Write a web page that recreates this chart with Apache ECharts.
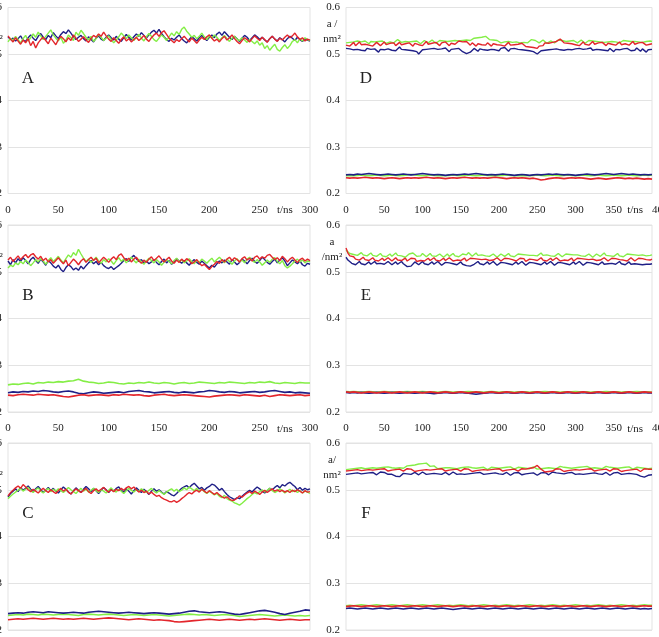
<!DOCTYPE html>
<html><head><meta charset="utf-8">
<script src="https://cdn.jsdelivr.net/npm/echarts@6/dist/echarts.min.js"></script>
<style>html,body{margin:0;padding:0;background:#fff}#c{width:659px;height:637px}</style>
</head><body><div id="c"></div>
<script>
// values in units of 0.001 nm^2
const SCALE = 1000;
const yTickLabels = ['0.2','0.3','0.4','0.5','0.6'];
const xTickLabelsLeft = ['0','50','100','150','200','250','300'];
const xTickLabelsRight = ['0','50','100','150','200','250','300','350','400'];
const panelLetters = ['A','B','C','D','E','F'];
const panelYNames = [['a /','nm²'],['a /','nm²'],['a /','nm²'],['a /','nm²'],['a','/nm²'],['a/','nm²']];

// ---- Panel A (0-300 ns)
const A_blue = [537,531,534,528,533,539,530,527,535,541,534,529,538,544,536,531,540,535,546,539,533,542,548,544,552,545,537,531,536,540,533,528,537,531,526,534,539,532,529,536,541,535,530,538,532,527,535,542,536,530,537,543,538,546,540,534,541,547,551,545,553,544,537,531,527,534,530,536,541,533,528,524,531,537,533,528,535,540,534,529,536,541,535,543,547,540,548,542,536,531,538,533,527,534,540,536,529,535,541,537,531,536,530,526,533,538,532,528,535,531,526,533,538,534,529,536,531,527,533,530,528];
const A_red = [539,532,526,535,528,521,530,524,533,518,527,513,524,531,536,529,522,534,527,520,531,538,533,526,535,529,541,534,527,532,537,530,525,533,540,536,543,538,547,539,532,527,535,529,523,531,537,528,533,526,531,536,529,534,540,532,527,535,541,545,538,546,550,542,534,529,524,531,527,533,538,532,526,534,529,523,530,536,531,537,541,534,528,532,526,533,538,530,535,541,533,527,522,529,535,531,526,533,539,534,529,536,531,525,533,538,532,527,534,530,536,541,535,539,545,537,531,535,528,532,530];
const A_green = [526,534,529,538,531,524,533,540,528,535,543,536,547,539,531,538,545,552,541,534,528,536,523,530,541,535,529,547,540,551,544,536,530,538,527,533,542,536,529,534,539,531,524,530,537,545,539,533,541,535,529,536,542,534,528,537,544,538,531,527,534,541,536,529,537,545,539,548,542,553,558,549,543,536,540,533,538,545,537,531,539,534,541,536,529,535,540,533,527,534,538,532,529,535,530,525,531,527,522,528,519,524,512,518,508,515,521,510,506,514,520,512,518,527,531,524,533,528,535,531,529];

// ---- Panel B (0-300 ns)
const B_blue_hi = [523,515,526,519,528,522,530,524,517,526,531,524,518,527,521,514,524,519,512,508,514,505,500,509,515,511,504,508,503,512,506,513,519,524,517,522,515,520,513,509,507,511,505,509,513,518,524,528,522,530,535,528,522,526,519,523,517,521,526,520,515,522,527,519,524,516,521,528,523,518,524,519,514,521,526,520,516,523,518,513,508,514,510,517,523,519,525,521,516,526,521,515,520,527,523,517,524,529,522,518,524,531,526,520,516,522,527,519,525,530,523,513,519,525,521,517,523,515,512,518,516];
const B_red_hi = [525,531,522,528,534,526,532,537,530,536,539,532,527,533,524,529,521,526,518,524,530,523,517,525,513,520,527,522,515,523,528,520,526,531,524,529,519,525,531,526,520,527,532,526,535,538,530,524,529,521,527,531,523,518,525,520,527,532,524,529,534,527,521,526,531,523,518,525,520,527,522,528,524,517,521,526,519,513,516,510,505,511,516,522,518,526,521,527,531,524,530,526,521,528,532,525,529,523,531,534,527,532,529,535,537,531,526,530,524,533,528,521,527,531,525,520,526,529,523,527,524];
const B_green_hi = [508,514,511,519,515,522,517,525,520,513,519,526,521,528,523,516,524,530,522,527,533,525,519,528,536,531,541,535,548,538,529,522,527,520,525,531,523,518,526,521,528,523,516,524,530,522,527,519,525,531,524,519,527,521,516,523,529,524,519,526,521,514,520,526,522,517,524,529,521,526,519,523,528,522,517,525,520,527,523,518,524,529,521,526,531,525,519,527,522,516,523,528,521,525,519,527,531,524,520,526,521,514,519,525,520,527,530,522,517,524,513,508,512,517,523,527,521,525,519,523,521];
const B_green_lo = [258,260,259,261,262,260,263,262,264,263,265,264,266,267,270,266,264,263,261,262,264,263,261,260,262,261,263,262,264,262,261,263,262,260,262,263,261,262,264,263,262,261,263,262,264,263,262,261,263,262,264,263,265,262,261,263,262,261,263,262,262];
const B_blue_lo = [241,243,242,244,243,245,244,246,245,243,242,244,245,243,240,239,241,243,242,240,241,242,243,241,244,245,246,244,243,241,242,243,244,242,241,243,242,241,243,244,246,245,243,242,244,243,241,242,243,244,242,243,245,246,244,242,243,241,242,241,240];
const B_red_lo = [236,235,237,238,237,236,238,237,236,237,235,233,232,234,236,237,235,236,237,236,235,237,236,238,237,236,237,235,234,236,237,238,236,235,236,237,236,235,234,233,232,234,235,236,237,236,235,237,236,235,234,236,233,235,237,236,235,236,237,235,236];

// ---- Panel C (0-300 ns)
const C_blue_hi = [485,492,497,502,496,505,499,503,508,501,496,502,507,500,494,499,505,498,503,497,493,500,506,501,495,491,498,504,499,494,501,507,502,496,503,498,492,499,505,500,494,501,497,503,506,499,495,502,497,491,498,504,499,494,501,496,490,497,502,497,500,495,491,496,493,489,487,492,498,503,506,509,504,510,514,508,502,505,499,504,507,512,510,505,499,503,496,490,485,482,479,483,481,486,491,495,499,495,501,506,502,497,493,498,503,500,505,509,504,511,508,513,516,511,507,500,505,499,503,500,502];
const C_red_hi = [487,494,499,504,508,503,511,506,500,496,501,497,493,499,503,498,494,500,496,492,498,503,497,501,495,491,497,502,498,494,499,503,496,492,498,502,497,501,505,499,495,500,496,501,498,503,499,504,507,502,506,500,495,499,494,497,491,495,490,486,488,483,480,478,475,474,477,473,476,481,485,490,494,491,496,499,495,501,497,493,498,494,490,494,489,485,482,485,480,477,478,482,487,484,489,493,496,492,497,494,490,495,499,494,498,502,497,500,496,499,495,498,494,499,496,500,497,493,498,495,496];
const C_green_hi = [481,486,491,495,499,503,497,501,505,498,494,500,504,497,493,499,503,496,501,497,502,498,494,499,505,500,496,492,498,503,497,501,495,499,503,498,494,500,497,493,499,504,498,495,501,497,492,498,503,499,495,500,496,502,498,494,499,503,497,493,498,494,490,495,499,502,497,501,496,499,504,500,506,502,498,503,497,501,496,492,497,493,489,492,486,483,488,481,478,476,472,470,467,471,476,481,485,490,494,491,496,500,495,499,503,498,494,497,502,498,493,497,501,496,499,494,498,493,497,495,492];
const C_blue_lo = [235,236,237,236,238,239,238,237,239,238,237,236,237,238,237,236,238,239,240,239,238,237,236,237,238,237,236,235,236,237,236,235,234,235,236,238,240,241,239,238,237,238,239,238,236,234,233,235,237,239,241,242,240,238,235,233,236,238,240,243,242];
const C_green_lo = [231,232,233,232,234,233,232,234,233,232,233,234,233,232,231,233,234,233,232,233,234,233,232,231,232,233,232,231,232,233,232,231,230,231,232,233,234,233,232,233,232,231,232,233,232,231,229,230,231,232,233,232,231,230,231,232,231,230,231,230,231];
const C_red_lo = [222,223,224,223,224,225,224,223,224,225,224,223,224,223,224,225,224,223,224,225,226,225,224,223,222,223,224,223,222,221,222,221,220,218,217,218,219,220,221,222,223,222,221,222,223,222,221,222,223,222,223,224,223,222,221,222,223,222,221,222,222];

// ---- Panel D (0-400 ns)
const D_green_hi = [524,527,525,529,526,523,528,530,526,524,528,525,522,527,529,526,524,527,530,528,525,523,527,526,530,524,527,531,528,525,529,527,523,526,530,527,524,528,525,522,526,529,527,524,527,530,526,523,527,529,525,528,531,527,524,528,526,529,532,528,525,529,527,530,532,529,531,534,532,535,533,536,535,538,534,531,528,530,526,529,527,524,528,526,523,527,529,525,522,526,528,524,521,525,527,524,528,531,527,529,526,524,528,530,526,523,525,528,526,524,527,530,526,529,531,527,524,528,526,529,527,524,528,530,526,523,527,529,525,528,531,527,524,526,529,525,528,526,523,527,530,526,528,524,527,529,525,528,531,527,524,527,530,526,528,525,529,527,524,528,527];
const D_red_hi = [519,523,517,521,525,518,522,526,520,516,521,524,519,523,517,520,525,521,518,522,526,520,517,523,519,524,518,521,525,520,516,522,519,524,521,517,523,526,520,524,518,522,527,521,517,523,519,525,521,518,524,520,526,522,518,523,527,521,525,528,530,526,522,527,523,519,524,520,517,522,526,520,523,519,524,521,517,522,526,520,524,519,522,517,521,525,519,523,520,516,521,518,523,519,516,520,515,518,514,516,512,517,521,518,524,520,523,519,525,521,527,530,532,528,524,520,523,519,522,526,520,524,518,522,526,521,525,519,523,527,521,518,524,520,525,522,518,523,527,521,524,519,523,526,520,517,522,525,519,523,527,521,518,524,520,525,522,519,523,521,522];
const D_blue_hi = [512,508,511,514,509,505,510,513,508,511,507,512,515,510,506,511,508,504,510,513,509,505,511,514,508,512,507,511,515,510,506,509,512,508,504,507,503,505,500,504,509,513,510,507,511,508,512,515,510,506,511,508,513,509,505,510,514,511,507,512,508,505,503,501,500,504,508,512,509,506,511,514,509,512,508,505,510,513,509,511,507,512,509,514,510,506,511,508,512,515,510,506,509,505,508,504,507,503,505,502,500,503,507,511,508,512,509,513,510,507,511,514,509,512,508,505,510,513,509,506,511,508,512,515,510,507,511,509,513,508,505,510,514,509,512,508,511,507,512,509,505,510,513,509,506,511,508,512,510,507,511,508,513,510,506,511,508,504,509,511,510];
const D_blue_lo = [240,241,240,242,241,242,243,242,241,240,241,242,241,240,241,242,241,240,241,242,243,242,241,240,241,240,239,240,241,240,241,242,241,242,243,242,241,240,241,240,241,242,241,240,239,240,241,240,239,240,241,240,241,242,241,242,241,240,241,240,239,240,241,242,241,240,241,242,243,242,241,242,243,242,241,242,241,240,241,240,241];
const D_green_lo = [238,239,238,239,240,239,238,239,240,239,238,239,240,239,238,239,240,241,240,239,238,239,240,239,238,239,238,239,240,239,238,239,240,239,238,239,240,239,238,239,238,239,240,239,238,239,238,239,238,239,240,239,238,239,240,239,238,239,240,239,238,239,240,239,238,239,240,239,238,239,240,239,238,239,240,239,238,239,240,239,240];
const D_red_lo = [234,233,234,233,234,235,234,233,234,233,232,233,234,233,232,233,234,233,234,233,234,235,234,233,234,233,232,233,234,233,234,235,234,233,234,233,234,233,234,235,234,233,232,233,234,233,234,233,232,233,231,229,230,232,233,234,233,232,233,234,233,234,233,232,231,232,233,232,231,232,233,234,233,232,233,232,233,232,231,232,231];

// ---- Panel E (0-400 ns)
const E_green_hi = [546,542,539,543,537,540,535,538,541,536,539,534,537,540,535,538,533,536,539,534,537,532,535,538,533,536,540,535,538,534,537,531,534,538,535,540,536,533,537,534,539,535,532,536,539,534,537,533,536,538,534,531,535,538,533,536,539,534,537,532,535,538,534,536,541,537,533,537,540,535,532,536,539,534,537,533,535,538,534,531,535,538,536,533,537,539,534,536,532,535,538,534,537,533,536,539,535,532,535,538,534,537,540,535,533,536,539,534,537,533,536,539,535,532,536,538,534,537,540,536,533,536,539,534,537,533,535,538,534,531,535,538,536,533,537,540,535,538,534,536,533,537,539,534,536,532,535,538,534,537,533,536,540,535,532,536,538,534,537,535,536];
const E_red_hi = [551,540,534,530,532,527,530,525,528,531,526,529,524,527,530,525,528,523,526,529,524,527,530,526,523,527,530,525,528,524,527,529,523,526,529,525,528,522,520,524,527,523,526,529,524,527,530,525,528,523,526,529,524,527,530,526,523,527,525,528,524,527,529,523,526,529,525,528,524,527,530,526,523,527,529,524,528,525,527,530,526,523,527,529,525,528,524,526,529,523,526,529,525,528,522,525,527,523,526,529,524,527,530,525,528,523,526,529,524,527,530,526,523,527,525,528,524,527,529,523,526,529,525,528,524,527,530,526,523,527,529,524,528,525,527,530,526,523,527,529,525,528,524,526,529,525,528,523,527,530,526,523,527,529,525,528,524,526,528,525,527];
const E_blue_hi = [531,525,521,518,522,515,519,522,517,520,515,518,521,516,519,522,517,514,518,521,516,519,522,518,515,519,521,516,519,522,517,514,511,513,512,516,521,518,515,519,522,517,520,515,518,521,516,519,522,518,514,517,520,516,519,522,517,520,515,518,521,516,514,513,511,512,513,516,519,522,517,520,515,518,521,516,519,522,518,514,517,520,516,519,522,517,520,515,518,521,516,519,522,518,514,517,520,516,519,522,517,520,515,518,521,516,519,522,518,514,517,520,516,519,522,517,520,515,518,521,516,519,522,518,514,517,520,516,519,522,517,520,515,518,521,516,519,517,514,518,521,516,519,522,517,520,515,518,521,516,519,517,514,516,518,515,513,516,519,516,517];
const E_green_lo = [244,243,244,243,242,243,244,243,242,243,244,243,242,243,242,243,244,243,242,243,244,243,242,243,242,243,244,243,242,243,242,243,244,243,242,243,242,243,244,243,242,243,242,243,242,243,242,243,242,243,242,243,244,243,242,243,242,243,242,243,244,243,242,243,242,243,242,243,244,243,242,243,242,243,242,243,244,243,242,243,242];
const E_blue_lo = [242,241,242,241,242,241,240,241,242,241,240,241,242,241,240,241,242,241,240,241,242,241,240,239,240,241,242,241,240,241,242,241,240,239,238,239,240,241,242,241,240,241,242,241,240,241,242,241,240,241,242,241,240,241,242,241,240,241,242,241,240,241,242,241,240,241,242,241,240,241,242,241,240,241,242,241,240,241,242,241,241];
const E_red_lo = [243,242,243,242,241,242,243,242,241,242,243,242,241,242,243,242,241,242,243,242,241,242,243,242,241,242,243,242,241,242,243,242,241,242,243,242,241,242,243,242,241,242,243,242,241,242,243,242,241,242,243,242,241,242,243,242,241,242,243,242,241,242,243,242,241,242,243,242,241,242,243,242,241,242,243,242,241,242,243,242,242];

// ---- Panel F (0-400 ns)
const F_green_hi = [543,546,544,547,545,548,546,543,547,549,545,548,546,544,547,549,546,543,547,545,548,546,549,545,547,550,546,544,547,549,546,548,551,549,552,550,553,551,555,553,556,554,557,553,550,548,551,547,545,548,546,549,547,544,547,549,546,548,545,543,547,545,548,546,549,545,547,550,546,544,547,545,548,546,543,546,548,545,547,549,546,544,547,545,548,546,549,547,544,546,548,545,547,550,546,548,545,547,549,546,544,547,545,548,546,549,547,544,546,548,545,547,550,546,548,545,547,549,546,544,547,545,548,546,549,547,550,548,546,549,547,544,546,548,545,547,550,546,548,545,547,549,546,544,547,545,548,546,549,547,544,546,548,545,547,550,546,548,545,547,546];
const F_red_hi = [540,543,541,544,542,539,543,545,541,544,542,540,543,545,542,539,543,541,544,542,545,543,540,544,542,539,543,541,544,542,540,543,545,541,544,542,539,543,541,544,542,540,543,545,542,539,543,541,544,542,545,543,540,544,542,539,543,541,544,542,540,543,545,541,544,542,539,543,541,544,542,540,543,545,542,539,543,541,544,542,545,543,540,544,542,539,543,541,544,542,540,543,545,541,544,543,546,548,547,550,552,549,544,540,538,541,539,542,540,543,545,541,544,542,539,543,541,544,542,540,543,545,542,539,543,541,544,542,545,543,540,544,542,539,543,541,544,542,540,543,545,541,544,542,539,543,541,544,542,545,543,540,544,542,539,543,545,541,544,543,544];
const F_blue_hi = [533,536,534,537,535,532,536,538,534,537,535,533,536,534,537,535,532,536,538,534,537,535,533,531,533,530,529,531,528,532,535,537,534,536,533,535,537,534,532,536,538,535,533,536,534,531,535,537,534,536,533,535,537,534,532,536,538,535,533,536,534,531,533,536,534,537,535,532,536,534,537,535,533,536,534,537,535,532,536,538,534,536,533,535,537,534,531,533,536,534,537,535,532,536,534,537,535,533,536,534,531,533,536,534,537,535,532,536,538,534,536,533,535,537,534,532,536,534,537,535,533,536,534,531,533,536,534,537,535,532,536,538,534,536,533,535,537,534,531,533,536,534,537,535,533,536,534,537,535,532,534,536,533,531,529,528,527,529,531,530,532];
const F_green_lo = [252,253,252,253,254,253,252,253,254,253,252,253,254,253,252,253,254,253,252,253,254,253,252,253,254,253,252,253,252,253,254,253,252,253,252,253,254,253,252,253,252,253,254,253,252,253,252,253,254,253,252,253,252,253,254,253,252,253,252,253,254,253,252,253,252,253,254,253,252,253,252,253,254,253,252,253,252,253,254,253,253];
const F_red_lo = [250,251,252,251,250,251,252,251,250,251,252,251,250,251,252,251,250,251,252,251,250,251,252,251,250,251,252,251,250,251,252,251,250,251,252,251,250,251,252,251,250,251,252,251,250,251,252,251,250,251,252,251,250,251,252,251,250,251,252,251,250,251,252,251,250,251,252,251,250,251,252,251,250,251,252,251,250,251,252,251,251];
const F_blue_lo = [246,247,246,245,246,247,246,245,246,247,246,245,246,247,246,245,246,247,246,245,246,247,246,245,246,247,246,245,244,245,246,247,246,245,246,247,246,245,246,247,246,245,246,247,246,245,246,247,246,245,246,247,246,245,246,247,246,245,246,247,246,245,246,247,246,245,246,247,246,245,246,247,246,245,246,247,246,245,246,245,246];

// ---------- build ----------
const BLUE = '#1f1f86', RED = '#e3262c', GREEN = '#84ee46';
const panels = [
  {tmax:300, xl:xTickLabelsLeft,  lines:[[A_blue,BLUE],[A_green,GREEN],[A_red,RED]]},
  {tmax:300, xl:xTickLabelsLeft,  lines:[[B_blue_hi,BLUE],[B_green_hi,GREEN],[B_red_hi,RED],[B_green_lo,GREEN],[B_blue_lo,BLUE],[B_red_lo,RED]]},
  {tmax:300, xl:xTickLabelsLeft,  lines:[[C_blue_hi,BLUE],[C_green_hi,GREEN],[C_red_hi,RED],[C_green_lo,GREEN],[C_blue_lo,BLUE],[C_red_lo,RED]]},
  {tmax:400, xl:xTickLabelsRight, lines:[[D_blue_hi,BLUE],[D_green_hi,GREEN],[D_red_hi,RED],[D_green_lo,GREEN],[D_blue_lo,BLUE],[D_red_lo,RED]]},
  {tmax:400, xl:xTickLabelsRight, lines:[[E_blue_hi,BLUE],[E_green_hi,GREEN],[E_red_hi,RED],[E_green_lo,GREEN],[E_blue_lo,BLUE],[E_red_lo,RED]]},
  {tmax:400, xl:xTickLabelsRight, lines:[[F_blue_hi,BLUE],[F_green_hi,GREEN],[F_red_hi,RED],[F_green_lo,GREEN],[F_blue_lo,BLUE],[F_red_lo,RED]]}
];
const colLeft = [8, 346], colWidth = [302, 306];
const rowTop = [7.5, 225, 443], rowHeight = [186, 187, 187];
const FONT = 'Liberation Serif';
const grids = [], xAxes = [], yAxes = [], series = [], graphics = [];
panels.forEach((p, k) => {
  const c = k < 3 ? 0 : 1, r = k % 3;
  const L = colLeft[c], W = colWidth[c], T = rowTop[r], H = rowHeight[r];
  grids.push({left: L, top: T, width: W, height: H, containLabel: false, outerBoundsMode: 'none',
    show: true, borderColor: '#e3e3e3', borderWidth: 1, backgroundColor: 'transparent'});
  const step = 50;
  xAxes.push({type: 'value', gridIndex: k, min: 0, max: p.tmax, interval: step,
    axisLine: {show: false}, axisTick: {show: false}, splitLine: {show: false},
    axisLabel: {margin: 11, fontFamily: FONT, fontSize: 11, color: '#222', hideOverlap: false,
      alignMaxLabel: c === 1 ? 'left' : 'center',
      formatter: v => p.xl[Math.round(v / step)] || ''}});
  yAxes.push({type: 'value', gridIndex: k, min: 0.2, max: 0.6, interval: 0.1,
    axisLine: {show: false}, axisTick: {show: false},
    splitLine: {show: true, lineStyle: {color: '#e3e3e3', width: 1}},
    axisLabel: {margin: 6, fontFamily: FONT, fontSize: 11, color: '#222',
      formatter: v => yTickLabels[Math.round((v - 0.2) * 10)]}});
  p.lines.forEach(([arr, col]) => {
    const n = arr.length;
    const isLow = arr[0] < 400;
    series.push({type: 'line', xAxisIndex: k, yAxisIndex: k, showSymbol: false, symbol: 'none',
      silent: true, animation: false, clip: true,
      lineStyle: {color: col, width: isLow ? 1.6 : 1.4},
      data: arr.map((v, i) => [i * p.tmax / (n - 1), v / SCALE])});
  });
  graphics.push({type: 'text', x: L + 20, y: T + 71, style: {text: panelLetters[k], fontFamily: FONT, fontSize: 17, fill: '#222', textAlign: 'center', textVerticalAlign: 'middle'}});
  graphics.push({type: 'text', x: L - 14, y: T + 17, style: {text: panelYNames[k][0], fontFamily: FONT, fontSize: 11, fill: '#222', textAlign: 'center', textVerticalAlign: 'middle'}});
  graphics.push({type: 'text', x: L - 14, y: T + 32, style: {text: panelYNames[k][1], fontFamily: FONT, fontSize: 11, fill: '#222', textAlign: 'center', textVerticalAlign: 'middle'}});
  const tx = c === 0 ? L + W * (p.tmax - 25) / p.tmax : L + W * (p.tmax - 22) / p.tmax;
  graphics.push({type: 'text', x: tx, y: T + H + 17, style: {text: 't/ns', fontFamily: FONT, fontSize: 11, fill: '#222', textAlign: 'center', textVerticalAlign: 'middle'}});
});
const chart = echarts.init(document.getElementById('c'), null, {renderer: 'canvas'});
chart.setOption({backgroundColor: '#fff', animation: false, grid: grids, xAxis: xAxes, yAxis: yAxes, series: series, graphic: graphics});
</script></body></html>
